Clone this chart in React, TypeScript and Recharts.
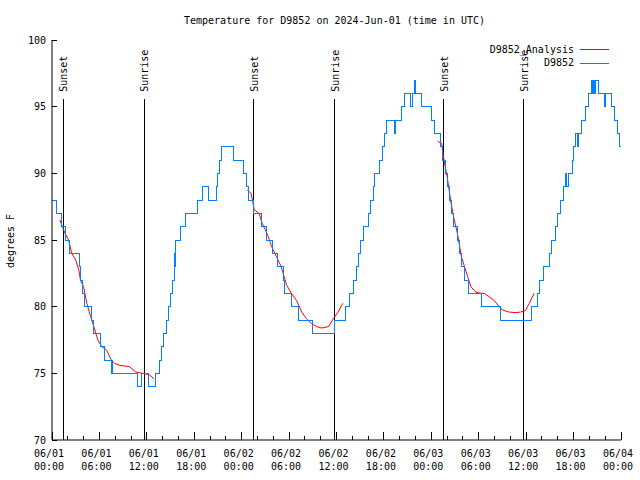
import { LineChart, Line, XAxis, YAxis, ReferenceLine, Legend } from "recharts";

const FONT = "'DejaVu Sans Mono', monospace";

// hours since 2024-06-01 00:00 UTC, observed temperature (deg F)
const obsSteps: [number, number][] = [
  [0, 88], [0.6, 87], [1.14, 86], [1.65, 85], [2.2, 84], [3.42, 83], [3.6, 82], [3.8, 81],
  [4.1, 80], [4.94, 79], [5.3, 78], [6.1, 77], [6.7, 76], [7.48, 75], [7.6, 76], [7.7, 75],
  [10.85, 74], [11.3, 75], [12.25, 74], [13.1, 75], [13.55, 76], [13.9, 77], [14.1, 78],
  [14.5, 79], [14.8, 80], [15.0, 81], [15.25, 82], [15.45, 84], [15.55, 83], [15.65, 85],
  [16.3, 86], [16.9, 87], [18.4, 88], [19.1, 89], [19.8, 88], [20.8, 89], [20.95, 90],
  [21.15, 91], [21.4, 92], [23.0, 91], [24.2, 90], [24.6, 89], [24.85, 88], [25.55, 87],
  [26.5, 86], [27.1, 85], [27.95, 84], [28.55, 83], [29.25, 82], [29.45, 81], [30.35, 80],
  [31.25, 79], [32.95, 78], [35.8, 79], [37.2, 80], [37.6, 81], [38.1, 82], [38.5, 83],
  [38.75, 84], [39.05, 85], [39.45, 86], [40.0, 87], [40.3, 88], [40.65, 89], [40.85, 90],
  [41.5, 91], [41.8, 92], [42.1, 93], [42.35, 94], [43.3, 93], [43.5, 94], [44.25, 95],
  [44.55, 96], [45.35, 95], [45.6, 96], [45.85, 97], [46.05, 96], [46.8, 95], [48.05, 94],
  [48.35, 93], [49.15, 92], [49.4, 91], [49.85, 90], [50.05, 89], [50.35, 88], [50.55, 87],
  [50.8, 86], [51.3, 85], [51.6, 84], [51.85, 83], [52.25, 82], [52.75, 81], [54.4, 80],
  [56.8, 79], [60.7, 80], [61.4, 81], [61.7, 82], [62.2, 83], [62.9, 84], [63.2, 85],
  [63.7, 86], [64.0, 87], [64.35, 88], [64.7, 89], [64.95, 90], [65.1, 89], [65.3, 90],
  [65.8, 91], [66.0, 92], [66.3, 93], [66.5, 92], [66.65, 93], [66.95, 94], [67.5, 95],
  [67.95, 96], [68.3, 97], [68.45, 96], [68.55, 97], [68.65, 96], [68.75, 97], [69.2, 96],
  [69.6, 96], [69.85, 95], [70.05, 96], [70.8, 95], [71.2, 94], [71.5, 93], [71.8, 92], [72, 92],
];

const analysisNight1: [number, number][] = [
  [1.0, 86.5], [1.65, 85.5], [2.1, 85], [2.5, 84], [3.0, 83.5], [3.4, 82.75], [3.6, 82],
  [4.0, 81.5], [4.4, 80.25], [4.9, 79.25], [5.3, 78.5], [5.8, 77.5], [6.3, 77], [6.9, 76.75],
  [7.5, 76], [7.9, 75.75], [8.6, 75.6], [9.8, 75.5], [10.6, 75.1], [11.5, 75], [12.3, 74.9],
  [12.9, 74.6],
];
const analysisNight2: [number, number][] = [
  [24.7, 88.75], [25.2, 88.5], [25.6, 87.25], [26.2, 87], [26.6, 86.25], [27.2, 85.5],
  [27.8, 84.5], [28.4, 83.75], [29.0, 83], [29.7, 81.6], [30.3, 81], [31.0, 80.4],
  [31.6, 79.6], [32.2, 79.1], [32.8, 78.75], [33.5, 78.5], [34.1, 78.4], [35.0, 78.5],
  [35.6, 79.1], [36.2, 79.6], [36.8, 80.25],
];
const analysisNight3: [number, number][] = [
  [48.8, 92.4], [49.3, 92.25], [49.6, 91], [50.0, 89.75], [50.5, 87.75], [50.9, 86.5],
  [51.3, 85.5], [51.8, 83.75], [52.2, 83], [52.6, 82.25], [53.0, 81.5], [53.6, 81.1],
  [54.3, 81], [54.7, 81], [55.3, 80.75], [55.9, 80.5], [56.6, 80], [57.0, 79.75],
  [57.8, 79.6], [58.7, 79.55], [59.3, 79.6], [59.9, 79.7], [60.4, 80.25], [61.0, 81],
];

const sunTimes = [1.43, 11.7, 25.5, 35.8, 49.6, 59.7];
const sunNames = ["Sunset", "Sunrise", "Sunset", "Sunrise", "Sunset", "Sunrise"];
const sunLineTop = 95.55;

const xTicks = Array.from({ length: 37 }, (_, i) => i * 2);
const xTickDates = ["06/01", "06/01", "06/01", "06/01", "06/02", "06/02", "06/02", "06/02", "06/03", "06/03", "06/03", "06/03", "06/04"];
const xTickTimes = ["00:00", "06:00", "12:00", "18:00", "00:00", "06:00", "12:00", "18:00", "00:00", "06:00", "12:00", "18:00", "00:00"];
const yTicks = [70, 75, 80, 85, 90, 95, 100];

const obsData = obsSteps.map(([t, v]) => ({ t, v }));
const analysisData = [analysisNight1, analysisNight2, analysisNight3].flatMap((seg, i) => {
  const pts: { t: number; v: number | null }[] = seg.map(([t, v]) => ({ t, v }));
  if (i < 2) pts.push({ t: seg[seg.length - 1][0] + 0.01, v: null });
  return pts;
});

const BottomTick = (props: any) => {
  const { x, y, payload } = props;
  const v = payload.value;
  const major = v % 6 === 0;
  const k = v / 6;
  return (
    <g>
      <line x1={x} y1={y} x2={x} y2={y - (major ? 8 : 4)} stroke="#000" shapeRendering="crispEdges" />
      {major && (
        <text x={x - 3} y={y + 17} textAnchor="middle" fontFamily={FONT} fontSize={10} fill="#000">
          {xTickDates[k]}
        </text>
      )}
      {major && (
        <text x={x - 3} y={y + 30} textAnchor="middle" fontFamily={FONT} fontSize={10} fill="#000">
          {xTickTimes[k]}
        </text>
      )}
    </g>
  );
};

const TopTick = (props: any) => {
  const { x, y, payload } = props;
  const major = payload.value % 6 === 0;
  return <line x1={x} y1={y} x2={x} y2={y + (major ? 8 : 4)} stroke="#000" shapeRendering="crispEdges" />;
};

const LeftTick = (props: any) => {
  const { x, y, payload } = props;
  return (
    <g>
      <line x1={x} y1={y} x2={x + 5} y2={y} stroke="#000" shapeRendering="crispEdges" />
      <text x={x - 6} y={y + 3.5} textAnchor="end" fontFamily={FONT} fontSize={10} fill="#000">
        {payload.value}
      </text>
    </g>
  );
};

const RightTick = (props: any) => {
  const { x, y } = props;
  return <line x1={x} y1={y} x2={x - 5} y2={y} stroke="#000" shapeRendering="crispEdges" />;
};

const SunLabel = (props: any) => {
  const { viewBox, text } = props;
  const lx = viewBox.x + 4;
  const ly = viewBox.y - 7.5;
  return (
    <text x={lx} y={ly} transform={`rotate(-90 ${lx} ${ly})`} textAnchor="start" fontFamily={FONT} fontSize={10} fill="#000">
      {text}
    </text>
  );
};

const KeyBox = () => (
  <svg width={140} height={32}>
    <text x={94} y={11.5} textAnchor="end" fontFamily={FONT} fontSize={10} fill="#000">D9852_Analysis</text>
    <line x1={100} y1={8.5} x2={129} y2={8.5} stroke="#ff0000" />
    <text x={94} y={25} textAnchor="end" fontFamily={FONT} fontSize={10} fill="#000">D9852</text>
    <line x1={100} y1={22.5} x2={129} y2={22.5} stroke="#0080ff" />
  </svg>
);

export default function App() {
  return (
    <div style={{ position: "absolute", left: 0, top: 0, width: 640, height: 480, background: "#fff" }}>
      <LineChart width={640} height={480} margin={{ top: 40, right: 19, bottom: 0, left: 0 }}>
        <XAxis
          dataKey="t"
          type="number"
          domain={[0, 72]}
          ticks={xTicks}
          interval={0}
          tickSize={0}
          tickMargin={0}
          tickLine={false}
          height={40}
          axisLine={{ stroke: "#000" }}
          tick={<BottomTick />}
        />
        <XAxis
          xAxisId="top"
          orientation="top"
          dataKey="t"
          type="number"
          domain={[0, 72]}
          ticks={xTicks}
          interval={0}
          tickSize={0}
          tickMargin={0}
          tickLine={false}
          height={0}
          axisLine={{ stroke: "#000" }}
          tick={<TopTick />}
        />
        <YAxis
          type="number"
          domain={[70, 100]}
          ticks={yTicks}
          interval={0}
          tickSize={0}
          tickMargin={0}
          tickLine={false}
          width={52}
          axisLine={{ stroke: "#000" }}
          tick={<LeftTick />}
        />
        <YAxis
          yAxisId="right"
          orientation="right"
          type="number"
          domain={[70, 100]}
          ticks={yTicks}
          interval={0}
          tickSize={0}
          tickMargin={0}
          tickLine={false}
          width={0}
          axisLine={{ stroke: "#000" }}
          tick={<RightTick />}
        />
        {sunTimes.map((h, i) => (
          <ReferenceLine
            key={i}
            segment={[{ x: h, y: 70 }, { x: h, y: sunLineTop }]}
            stroke="#000"
            shapeRendering="crispEdges"
            label={(p: any) => <SunLabel viewBox={p.viewBox} text={sunNames[i]} />}
          />
        ))}
        <Line
          data={analysisData}
          dataKey="v"
          type="linear"
          stroke="#ff0000"
          strokeWidth={1}
          dot={false}
          activeDot={false}
          isAnimationActive={false}
        />
        <Line
          data={obsData}
          dataKey="v"
          type="stepAfter"
          stroke="#0080ff"
          strokeWidth={1}
          dot={false}
          activeDot={false}
          isAnimationActive={false}
          shapeRendering="crispEdges"
        />
        <Legend
          layout="horizontal"
          verticalAlign="middle"
          align="center"
          wrapperStyle={{ left: 480, top: 41, width: 140 }}
          content={() => <KeyBox />}
        />
      </LineChart>
      <svg width={640} height={480} style={{ position: "absolute", left: 0, top: 0, pointerEvents: "none" }}>
        <text x={334.5} y={24} textAnchor="middle" fontFamily={FONT} fontSize={10} fill="#000">
          Temperature for D9852 on 2024-Jun-01 (time in UTC)
        </text>
        <text x={14} y={241} transform="rotate(-90 14 241)" textAnchor="middle" fontFamily={FONT} fontSize={10} fill="#000">
          degrees F
        </text>
      </svg>
    </div>
  );
}
